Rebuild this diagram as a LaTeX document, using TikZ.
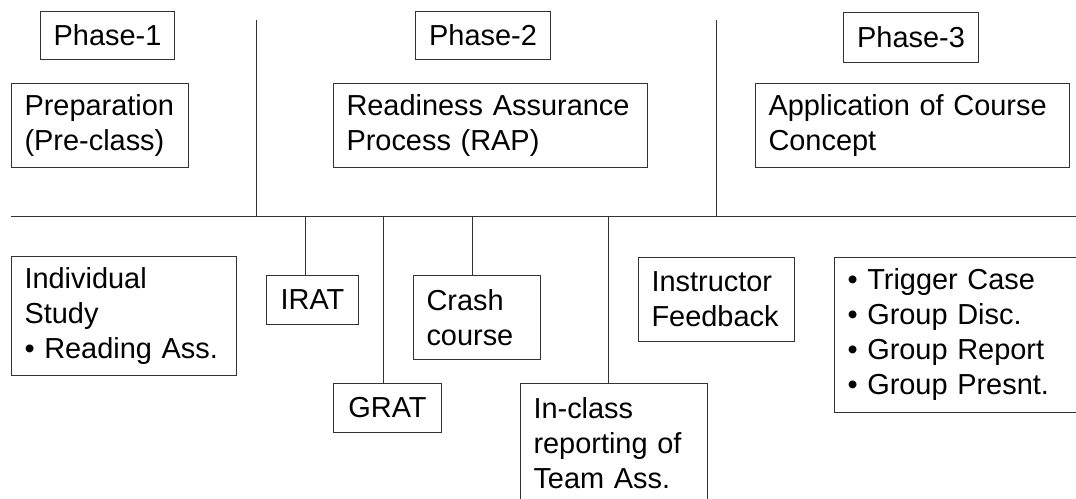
\documentclass[tikz,border=0pt]{standalone}
\usepackage{fontspec}
\setmainfont{Liberation Sans}
\begin{document}
\begin{tikzpicture}[x=0.75pt,y=-0.75pt,
  line/.style={draw=black!80, line width=0.75pt},
  box/.style={draw=black!80, line width=0.75pt, anchor=north west,
    inner xsep=9.75pt, inner ysep=0pt, align=left,
    font=\fontsize{21.7}{26.25}\selectfont},
  cbox/.style={box, align=center}
]
\useasboundingbox (0,0) rectangle (1076,499);
\clip (0,0) rectangle (1076,499);

% top row
\node[cbox, minimum width=100.5pt, minimum height=36pt, text width=81pt] (p1) at (40,11) {Phase-1};
\node[cbox, minimum width=101.25pt, minimum height=36pt, text width=81.75pt] (p2) at (415,11) {Phase-2};
\node[cbox, minimum width=101.25pt, minimum height=37.5pt, text width=81.75pt] (p3) at (843,12) {Phase-3};

\node[box, minimum width=132.75pt, minimum height=63pt, text width=113.25pt] (prep) at (11,83) {Preparation\\(Pre-class)};
\node[box, minimum width=235.5pt, minimum height=63pt, text width=216pt] (rap) at (333,83) {Readiness Assurance\\Process (RAP)};
\node[box, minimum width=235.5pt, minimum height=63pt, text width=216pt] (app) at (755,83) {Application of Course\\Concept};

% axis lines
\coordinate (hl) at (11,217);
\coordinate (hr) at (1076,217);
\draw[line] (hl) -- (hr);
\coordinate (t1) at (256,20);
\coordinate (t2) at (716,20);
\draw[line] (t1) -- (t1 |- hl);
\draw[line] (t2) -- (t2 |- hl);

% bottom row
\node[box, minimum width=168.75pt, minimum height=89.25pt, text width=149.25pt] (ind) at (11,256) {Individual\\Study\\• Reading Ass.};
\node[cbox, minimum width=69pt, minimum height=36.75pt, text width=49.5pt] (irat) at (266,275) {IRAT};
\node[cbox, minimum width=81pt, minimum height=36.75pt, text width=61.5pt] (grat) at (333,383) {GRAT};
\node[box, minimum width=95.25pt, minimum height=63pt, text width=75.75pt] (crash) at (413,275) {Crash\\course};
\node[box, minimum width=140.25pt, minimum height=89.25pt, text width=120.75pt] (incl) at (520,383) {In-class\\reporting of\\Team Ass.};
\node[box, minimum width=117pt, minimum height=63pt, text width=97.5pt] (instr) at (638,257) {Instructor\\Feedback};
\node[box, minimum width=195pt, minimum height=116.25pt, text width=175.5pt] (app3) at (834,257) {• Trigger Case\\• Group Disc.\\• Group Report\\• Group Presnt.};

% connectors
\coordinate (j1) at (305,217);
\coordinate (j2) at (383,217);
\coordinate (j3) at (472,217);
\coordinate (j4) at (608,217);
\draw[line] (j1) -- (j1 |- irat.north);
\draw[line] (j2) -- (j2 |- grat.north);
\draw[line] (j3) -- (j3 |- crash.north);
\draw[line] (j4) -- (j4 |- incl.north);
\end{tikzpicture}
\end{document}
